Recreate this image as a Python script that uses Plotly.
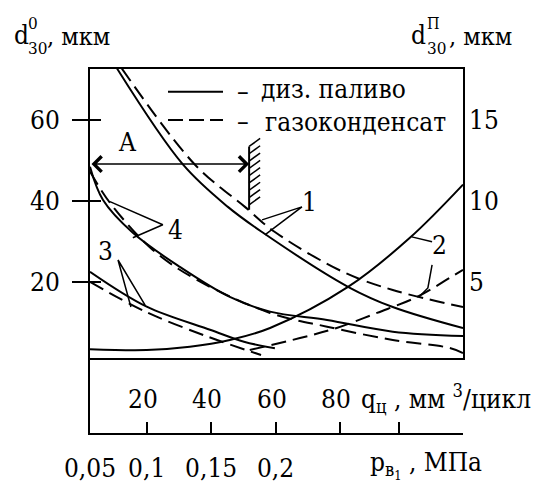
import plotly.graph_objects as go

# ---------------- data ----------------
# curve 1: d30^0 (мкм) vs q_ц (мм3/цикл)
q_1_diesel = [10.8, 31.3, 45.2, 55.8, 82.5, 96.4, 118.2]
d_1_diesel = [72.6, 48.9, 38.5, 32.3, 18.8, 13.8, 8.6]
q_1_gas = [12.3, 35.0, 50.5, 59.8, 80.9, 96.4, 118.2]
d_1_gas = [72.6, 48.9, 38.5, 32.3, 22.5, 18.0, 13.8]

# curve 2: d30^П (мкм, right axis) vs q_ц
q_2_diesel = [2.4, 20.0, 33.4, 45.8, 58.3, 82.5, 101.7, 118.2]
d_2_diesel = [0.85, 0.80, 1.0, 1.42, 2.16, 4.69, 7.72, 11.0]
q_2_gas = [52.0, 67.6, 79.0, 91.5, 103.9, 114.1, 118.2]
d_2_gas = [0.80, 1.54, 2.16, 3.09, 4.07, 5.25, 5.74]

# curve 3
q_3_diesel = [2.4, 20.0, 39.9, 50.2, 59.8]
d_3_diesel = [22.5, 13.9, 8.15, 5.26, 3.63]
q_3_gas = [2.4, 19.8, 39.3, 55.5]
d_3_gas = [20.0, 12.6, 6.4, 1.98]

# curve 4
q_4_diesel = [2.4, 6.4, 15.7, 30.3, 45.8, 58.3, 76.0, 96.4, 118.2]
d_4_diesel = [48.4, 40.25, 32.1, 23.7, 16.3, 12.67, 10.62, 7.73, 6.67]
q_4_gas = [2.4, 8.6, 21.9, 35.6, 58.3, 76.0, 96.4, 114.1, 118.2]
d_4_gas = [47.2, 39.5, 27.9, 20.5, 12.35, 8.96, 5.68, 3.70, 2.47]

# axis ticks
left_ticks = [20, 40, 60]
right_ticks = [5, 10, 15]
q_ticks = [20, 40, 60, 80, 98.4]
q_tick_labels = ["20", "40", "60", "80"]
p_tick_pos = [2.4, 20, 40, 60, 80, 98.4]
p_tick_labels = ["0,05", "0,1", "0,15", "0,2", "", ""]

# ---------------- layout constants ----------------
W, H = 547, 481
L, R, T, B = 90, 463, 69, 433          # plot area in px
MAIN_BOTTOM = 357.5
XR = [2.4, 118.2]
YR = [1.36, 72.5]
YR2 = [YR[0] / 4, YR[1] / 4]
FONT = "DejaVu Serif Condensed, DejaVu Serif, serif"
FS = 26
DASH = "15px,7px"


def PX(x):
    return (x - L) / (R - L)


def PY(y):
    return (B - y) / (B - T)


fig = go.Figure()

lw = 2
series = [
    (q_1_diesel, d_1_diesel, "y", "solid"),
    (q_1_gas, d_1_gas, "y", DASH),
    (q_2_diesel, d_2_diesel, "y2", "solid"),
    (q_2_gas, d_2_gas, "y2", DASH),
    (q_3_diesel, d_3_diesel, "y", "solid"),
    (q_3_gas, d_3_gas, "y", DASH),
    (q_4_diesel, d_4_diesel, "y", "solid"),
    (q_4_gas, d_4_gas, "y", DASH),
]
for xs, ys, ax, dash in series:
    fig.add_trace(go.Scatter(
        x=xs, y=ys, mode="lines", xaxis="x", yaxis=ax,
        line=dict(color="black", width=lw, dash=dash, shape="spline", smoothing=1.0),
        showlegend=False, hoverinfo="skip"))

# leader lines for curve numbers (decorations, data units)
leaders = [
    ([55.8, 68.2, 56.7], [35.3, 38.5, 31.6]),        # 1
    ([102.3, 108.6], [31.1, 29.9]),                  # 2 solid
    ([108.6, 107.3, 104.5], [24.2, 18.5, 16.3]),     # 2 dashed
    ([15.1, 11.1, 19.5], [13.8, 25.4, 14.3]),        # 3
    ([8.6, 25.0, 15.7], [39.8, 34.1, 30.9]),         # 4
]
for xs, ys in leaders:
    fig.add_trace(go.Scatter(x=xs, y=ys, mode="lines", xaxis="x", yaxis="y",
                             line=dict(color="black", width=1.5),
                             showlegend=False, hoverinfo="skip"))

# hatched limit line
q_lim = 51.8
d_lim = [37.8, 53.4]
fig.add_trace(go.Scatter(x=[q_lim, q_lim], y=d_lim, mode="lines",
                         line=dict(color="black", width=2),
                         showlegend=False, hoverinfo="skip"))
hx, hy = [], []
dq, dd = 11 / 3.222, 8 / 4.05
for i in range(9):
    d0 = 39.0 + i * 1.8
    hx += [q_lim, q_lim + dq, None]
    hy += [d0, d0 + dd, None]
fig.add_trace(go.Scatter(x=hx, y=hy, mode="lines",
                         line=dict(color="black", width=1.5),
                         showlegend=False, hoverinfo="skip"))

# empty traces to hold the extra axes
fig.add_trace(go.Scatter(x=[], y=[], xaxis="x2", yaxis="y3", showlegend=False))
fig.add_trace(go.Scatter(x=[], y=[], xaxis="x", yaxis="y4", showlegend=False))

tickfont = dict(family=FONT, size=FS, color="black")

fig.update_layout(
    width=W, height=H,
    font=dict(family=FONT, color="black"),
    margin=dict(l=L, r=W - R, t=T, b=H - B, pad=0, autoexpand=False),
    paper_bgcolor="white", plot_bgcolor="white",
    showlegend=False,
    xaxis=dict(domain=[0, 1], range=XR, anchor="y", showline=True, mirror=True,
               linecolor="black", linewidth=2, ticks="", showticklabels=False,
               showgrid=False, zeroline=False, automargin=False),
    yaxis=dict(domain=[(B - MAIN_BOTTOM) / (B - T), 1], range=YR, anchor="x",
               showline=True, mirror=True, linecolor="black", linewidth=2,
               tickvals=left_ticks, ticktext=[str(v) for v in left_ticks],
               ticks="outside", ticklen=16, tickwidth=2, tickcolor="black",
               ticklabelstandoff=7, tickfont=tickfont,
               showgrid=False, zeroline=False, automargin=False),
    yaxis4=dict(overlaying="y", side="left", anchor="x", range=YR,
                tickvals=left_ticks, ticks="inside", ticklen=11, tickwidth=2,
                tickcolor="black", showticklabels=False, showline=False,
                showgrid=False, zeroline=False, automargin=False),
    yaxis2=dict(overlaying="y", side="right", anchor="x", range=YR2,
                tickvals=right_ticks, ticktext=[str(v) for v in right_ticks],
                ticks="", ticklabelstandoff=5, tickfont=tickfont,
                showline=False, showgrid=False, zeroline=False, automargin=False),
    xaxis2=dict(domain=[0, 1], range=XR, anchor="y3", showline=True,
                linecolor="black", linewidth=2,
                tickvals=p_tick_pos, ticktext=p_tick_labels,
                ticks="inside", ticklen=11, tickwidth=2, tickcolor="black",
                ticklabelstandoff=11, tickfont=tickfont,
                showgrid=False, zeroline=False, automargin=False),
    yaxis3=dict(domain=[0, (B - MAIN_BOTTOM) / (B - T)], range=[0, 1], anchor="x2",
                showline=True, linecolor="black", linewidth=2, ticks="",
                showticklabels=False, showgrid=False, zeroline=False,
                automargin=False),
)

ann = []


def text(t, x, y, size=FS, xanchor="center"):
    ann.append(dict(text=t, x=PX(x), y=PY(y), xref="paper", yref="paper",
                    xanchor=xanchor, yanchor="middle", showarrow=False,
                    font=dict(family=FONT, size=size, color="black")))


# axis titles
text("d", 21, 35, size=26)
text("30", 37.5, 48, size=17)
text("0", 33, 23, size=17)
text(", мкм", 45, 36, xanchor="left", size=25)
text("d", 418, 35, size=26)
text("30", 436, 48, size=17)
text("П", 433, 23, size=16)
text(", мкм", 447, 36, xanchor="left", size=25)

# legend texts
text("–", 242.5, 91)
text("диз. паливо", 259, 89, xanchor="left", size=26)
text("–", 242.5, 121)
text("газоконденсат", 263, 122, xanchor="left", size=26)

# labels
text("A", 127, 142)
text("1", 309, 202)
text("2", 439, 245)
text("3", 105, 251)
text("4", 175, 230)

# q labels and axis names of the lower scale
for v, lab in zip(q_ticks, q_tick_labels):
    ann.append(dict(text=lab, x=v, y=PY(399), xref="x2", yref="paper",
                    xshift=-4, showarrow=False, yanchor="middle",
                    font=dict(family=FONT, size=FS, color="black")))
text("q<sub>ц</sub> , мм <sup>3</sup>/цикл", 359, 398, xanchor="left", size=26)
text("p<sub>в<sub>1</sub></sub> , МПа", 368, 465, xanchor="left", size=26)

# arrow A
ann.append(dict(text="", x=q_lim, y=49.06, ax=XR[0], ay=49.06,
                xref="x", yref="y", axref="x", ayref="y",
                showarrow=True, arrowside="end+start", arrowhead=4,
                startarrowhead=4, arrowsize=2, startarrowsize=2,
                arrowwidth=1.5, arrowcolor="black", standoff=0, startstandoff=0))

fig.update_layout(annotations=ann)

# legend samples
fig.add_shape(type="line", xref="paper", yref="paper",
              x0=PX(168), x1=PX(223), y0=PY(91.7), y1=PY(91.7),
              line=dict(color="black", width=2))
fig.add_shape(type="line", xref="paper", yref="paper",
              x0=PX(168), x1=PX(223), y0=PY(120), y1=PY(120),
              line=dict(color="black", width=2, dash="15px,6px"))

fig.write_html("out.html",
               config={"displayModeBar": False},
               post_script="document.body.style.margin='0';document.body.style.overflow='hidden';")
